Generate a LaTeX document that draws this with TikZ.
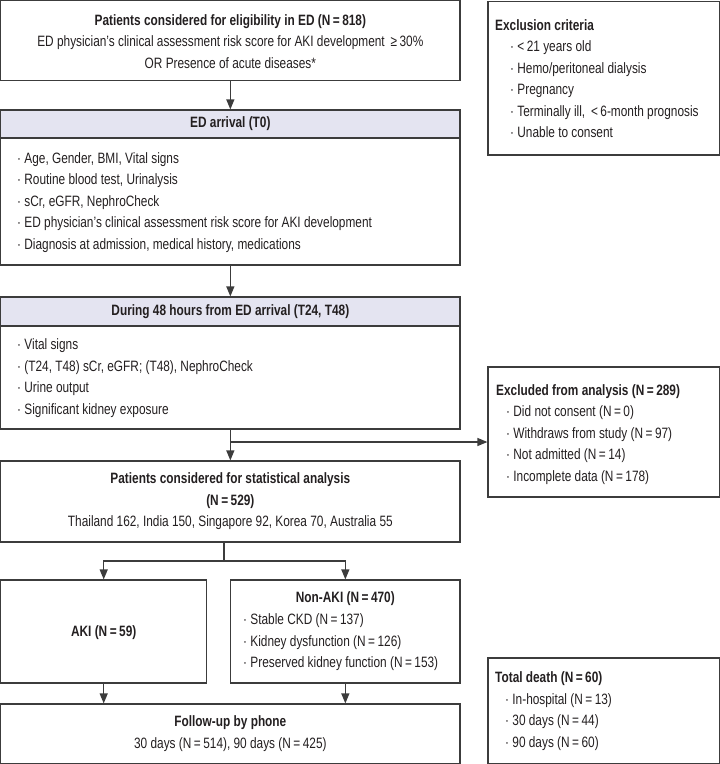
\documentclass[tikz,border=0pt]{standalone}
\usepackage{fontspec}
\setmainfont{Liberation Sans}[FakeStretch=0.79]
\usetikzlibrary{arrows.meta}
\definecolor{linec}{RGB}{60,60,60}
\definecolor{txtc}{RGB}{35,31,32}
\definecolor{headfill}{RGB}{228,228,241}
\tikzset{
  box/.style={draw=linec, line width=1.2pt, rectangle, inner sep=0pt},
  headbox/.style={box, fill=headfill},
  txt/.style={inner sep=0pt, text=txtc, font=\fontsize{15}{21.5}\selectfont},
  lst/.style={txt, align=left, anchor=west},
  ctr/.style={txt, align=center},
  arr/.style={draw=linec, line width=1.2pt, -{Triangle[length=10pt,width=8pt]}},
  ln/.style={draw=linec, line width=1.2pt}
}
\begin{document}
\begin{tikzpicture}[x=1pt,y=-1pt]
\useasboundingbox (0,0) rectangle (720,764);
% boxes
\node[box, minimum width=459.3pt, minimum height=80pt] (elig) at (230.35,40.7) {};
\node[box, minimum width=459.3pt, minimum height=155pt] (ed) at (230.35,187.5) {};
\node[headbox, minimum width=459.3pt, minimum height=28pt] (edh) at (230.35,124) {};
\node[box, minimum width=459.3pt, minimum height=132pt] (dur) at (230.35,363) {};
\node[headbox, minimum width=459.3pt, minimum height=29pt] (durh) at (230.35,311.5) {};
\node[box, minimum width=459.3pt, minimum height=81pt] (stat) at (230.35,501.5) {};
\node[box, minimum width=206pt, minimum height=103pt] (aki) at (103.7,631.5) {};
\node[box, minimum width=229.3pt, minimum height=103pt] (nonaki) at (345.35,631.5) {};
\node[box, minimum width=459.3pt, minimum height=59.3pt] (fu) at (230.35,733.65) {};
\node[box, minimum width=231.3pt, minimum height=153.3pt] (exc) at (603.65,78.35) {};
\node[box, minimum width=231.3pt, minimum height=130pt] (excl) at (603.65,432) {};
\node[box, minimum width=231.3pt, minimum height=105.3pt] (death) at (603.65,710.65) {};
% texts
\node[ctr] (eligt) at (230.35,41.5) {\bfseries Patients considered for eligibility in ED (N\,=\,818)\\
ED physician’s clinical assessment risk score for AKI development \,≥\,30\%\\
OR Presence of acute diseases*};
\node[ctr] (edht) at (edh.center) {\bfseries ED arrival (T0)};
\node[lst] (edt) at (17,202.5) {·~Age, Gender, BMI, Vital signs\\
·~Routine blood test, Urinalysis\\
·~sCr, eGFR, NephroCheck\\
·~ED physician’s clinical assessment risk score for AKI development\\
·~Diagnosis at admission, medical history, medications};
\node[ctr] (durht) at (durh.center) {\bfseries During 48 hours from ED arrival (T24, T48)};
\node[lst] (durt) at (17,378) {·~Vital signs\\
·~(T24, T48) sCr, eGFR; (T48), NephroCheck\\
·~Urine output\\
·~Significant kidney exposure};
\node[ctr] (statt) at (230.35,501.5) {\bfseries Patients considered for statistical analysis\\
\bfseries (N\,=\,529)\\
Thailand 162, India 150, Singapore 92, Korea 70, Australia 55};
\node[ctr] (akit) at (103.7,633) {\bfseries AKI (N\,=\,59)};
\node[ctr] (nonakih) at (345.35,599) {\bfseries Non-AKI (N\,=\,470)};
\node[lst] (nonakit) at (243,642.5) {·~Stable CKD (N\,=\,137)\\
·~Kidney dysfunction (N\,=\,126)\\
·~Preserved kidney function (N\,=\,153)};
\node[ctr] (fut) at (230.35,733.5) {\bfseries Follow-up by phone\\
30 days (N\,=\,514), 90 days (N\,=\,425)};
\node[lst] (exct) at (495,78.5) {\bfseries Exclusion criteria\\
\hspace*{15pt}·~<\,21 years old\\
\hspace*{15pt}·~Hemo/peritoneal dialysis\\
\hspace*{15pt}·~Pregnancy\\
\hspace*{15pt}·~Terminally ill, \,<\,6-month prognosis\\
\hspace*{15pt}·~Unable to consent};
\node[lst] (exclt) at (496,434.5) {\bfseries Excluded from analysis (N\,=\,289)\\
\hspace*{10pt}·~Did not consent (N\,=\,0)\\
\hspace*{10pt}·~Withdraws from study (N\,=\,97)\\
\hspace*{10pt}·~Not admitted (N\,=\,14)\\
\hspace*{10pt}·~Incomplete data (N\,=\,178)};
\node[lst] (deatht) at (495,711) {\bfseries Total death (N\,=\,60)\\
\hspace*{10pt}·~In-hospital (N\,=\,13)\\
\hspace*{10pt}·~30 days (N\,=\,44)\\
\hspace*{10pt}·~90 days (N\,=\,60)};
% connectors
\draw[arr] (elig.south) -- (edh.north);
\draw[arr] (ed.south) -- (durh.north);
\draw[arr] (dur.south) -- (stat.north);
\coordinate (br) at (230.35,442);
\draw[arr] (br) -- (br -| excl.west);
\coordinate (sb) at (224,561);
\draw[ln] ([xshift=-6.35pt]stat.south) -- (sb);
\draw[arr] (sb) -| (aki.north);
\draw[arr] (sb) -| (nonaki.north);
\draw[arr] (aki.south) -- (aki.south |- fu.north);
\draw[arr] (nonaki.south) -- (nonaki.south |- fu.north);
\end{tikzpicture}
\end{document}
